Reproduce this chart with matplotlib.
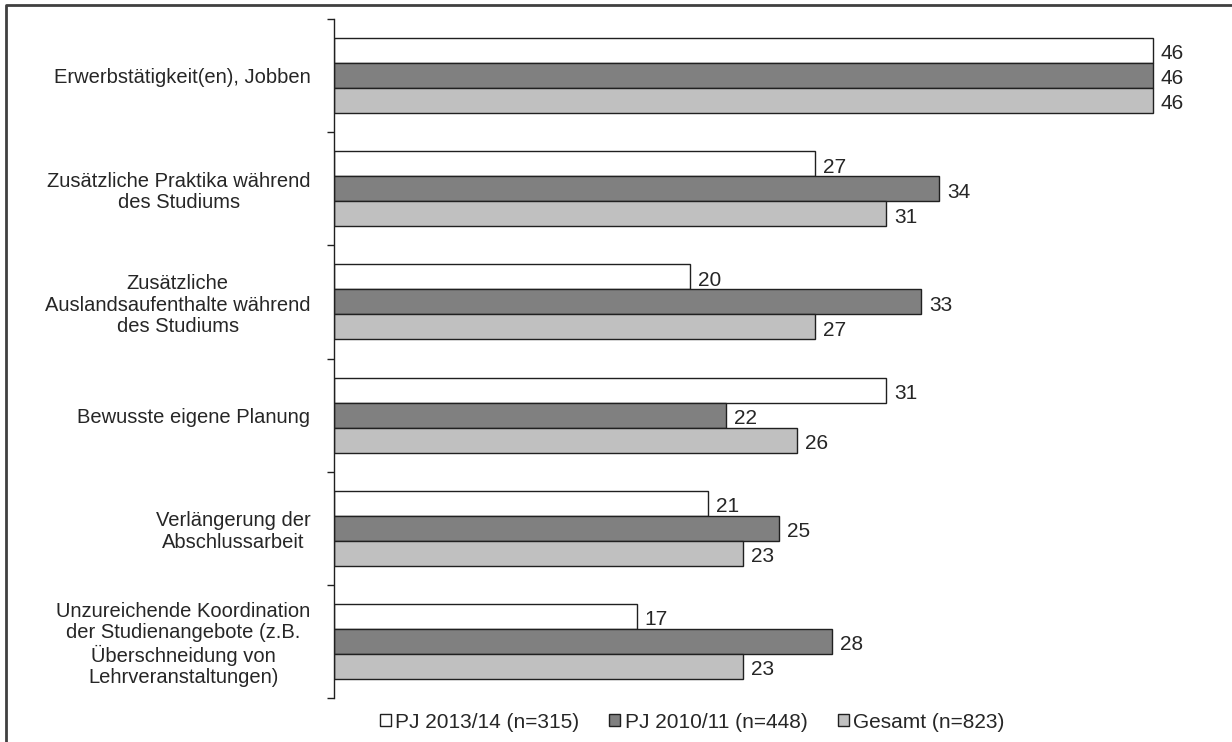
import numpy as np
import matplotlib
matplotlib.use('Agg')
import matplotlib.pyplot as plt
from matplotlib.lines import Line2D

plt.rcParams['font.family'] = ['Liberation Sans', 'DejaVu Sans']

# Chart data
categories = ['Erwerbstätigkeit(en), Jobben',
              'Zusätzliche Praktika während\ndes Studiums',
              'Zusätzliche\nAuslandsaufenthalte während\ndes Studiums',
              'Bewusste eigene Planung',
              'Verlängerung der\nAbschlussarbeit',
              'Unzureichende Koordination\nder Studienangebote (z.B.\nÜberschneidung von\nLehrveranstaltungen)']
series_names = ['PJ 2013/14 (n=315)', 'PJ 2010/11 (n=448)', 'Gesamt (n=823)']
pj_2013 = [46, 27, 20, 31, 21, 17]
pj_2010 = [46, 34, 33, 22, 25, 28]
gesamt = [46, 31, 27, 26, 23, 23]

colors = ['#ffffff', '#808080', '#c0c0c0']
txt = '#262626'
W, H = 1232, 742
fig = plt.figure(figsize=(W / 100, H / 100), dpi=100)
ax = fig.add_axes([334 / W, 44 / H, 890 / W, 679 / H])

y = np.arange(len(categories))
bh = 0.221
for i, (vals, col) in enumerate(zip([pj_2013, pj_2010, gesamt], colors)):
    pos = y + (i - 1) * bh
    ax.barh(pos, vals, height=bh, color=col, edgecolor='#202020', linewidth=1.0,
            label=series_names[i])
    for p, v in zip(pos, vals):
        ax.text(v + 0.45, p + 0.03, str(v), va='center', ha='left', fontsize=15, color=txt)

ax.set_xlim(0, 50)
ax.set_ylim(len(categories) - 0.5, -0.5)
ax.set_xticks([])
ax.set_yticks(y)
ax.set_yticklabels(categories, fontsize=14.5, color=txt)
for lab in ax.get_yticklabels():
    lab.set_multialignment('center')
    lab.set_linespacing(1.15)
ax.tick_params(axis='y', which='major', length=0, pad=17)
ax.set_yticks(np.arange(-0.5, len(categories)), minor=True)
ax.tick_params(axis='y', which='minor', length=5, width=1, color='#202020')
for s in ['top', 'right', 'bottom']:
    ax.spines[s].set_visible(False)
ax.spines['left'].set_color('#202020')
ax.spines['left'].set_linewidth(1)

# outer frame (left and top)
fig.add_artist(Line2D([6 / W, 6 / W, 1.0], [0.0, 1 - 5 / H, 1 - 5 / H],
                      transform=fig.transFigure, color='#404040', linewidth=2))

fig.legend(loc='center', bbox_to_anchor=(692 / W, 1 - 722 / H), ncol=3, frameon=False,
           fontsize=15, handlelength=0.53, handleheight=0.53, handletextpad=0.2,
           columnspacing=1.45, labelcolor=txt)

fig.savefig('out.png', dpi=100)
